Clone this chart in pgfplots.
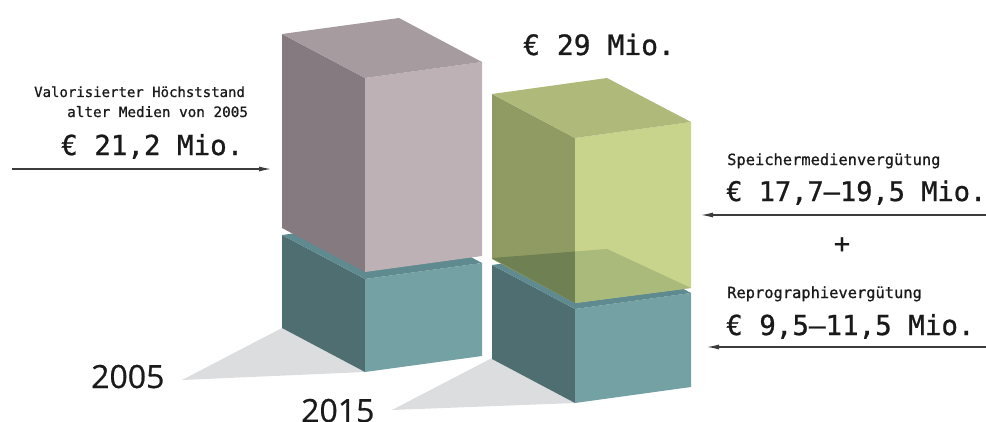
\documentclass[border=0pt]{standalone}
\usepackage{fontspec}
\setmainfont{DejaVu Sans Mono}
\newfontfamily\lab{DejaVu Sans Mono}[FakeBold=0.9]
\newfontfamily\yearfont{Open Sans}[FakeBold=0.6]
\usepackage{pgfplots}
\pgfplotsset{compat=1.18}
\usetikzlibrary{arrows.meta}
\definecolor{mauveTop}{HTML}{A69B9F}
\definecolor{mauveLeft}{HTML}{857A80}
\definecolor{mauveRight}{HTML}{BEB1B5}
\definecolor{tealTop}{HTML}{5F8A90}
\definecolor{tealLeft}{HTML}{4E6E72}
\definecolor{tealRight}{HTML}{74A1A3}
\definecolor{greenTop}{HTML}{AEB97A}
\definecolor{greenLeft}{HTML}{8F9B63}
\definecolor{greenRight}{HTML}{C8D38C}
\definecolor{greenBotL}{HTML}{6F8052}
\definecolor{greenBotR}{HTML}{A9BA7B}
\definecolor{shadowC}{HTML}{DCDDDF}
\definecolor{txt}{HTML}{1A1A1A}
\begin{document}
\begin{tikzpicture}
\begin{axis}[width=986bp,height=422bp,scale only axis,hide axis,
  xmin=0,xmax=986,ymin=0,ymax=422,y dir=reverse,clip=false]
\coordinate (BL) at (axis cs:0,422);
\coordinate (TR) at (axis cs:986,0);
% shadows
\addplot[fill=shadowC,draw=none] coordinates {(282,328) (182,380) (365,372)} -- cycle;
\addplot[fill=shadowC,draw=none] coordinates {(492,358) (392,410) (575,403)} -- cycle;
% 2005 bottom (teal)
\addplot[fill=tealLeft,draw=none] coordinates {(365,279) (282,235) (282,328) (365,372)} -- cycle;
\addplot[fill=tealRight,draw=none] coordinates {(365,279) (482,263) (482,356) (365,372)} -- cycle;
\addplot[fill=tealTop,draw=none] coordinates {(365,279) (282,235) (399,219) (482,263)} -- cycle;
% 2005 top (mauve)
\addplot[fill=mauveLeft,draw=none] coordinates {(365,78) (282,34) (282,228) (365,272)} -- cycle;
\addplot[fill=mauveRight,draw=none] coordinates {(365,78) (482,62) (482,256) (365,272)} -- cycle;
\addplot[fill=mauveTop,draw=none] coordinates {(365,78) (282,34) (399,18) (482,62)} -- cycle;
% 2015 bottom (teal)
\addplot[fill=tealLeft,draw=none] coordinates {(575,309) (492,265) (492,359) (575,403)} -- cycle;
\addplot[fill=tealRight,draw=none] coordinates {(575,309) (691,293) (691,387) (575,403)} -- cycle;
\addplot[fill=tealTop,draw=none] coordinates {(575,309) (492,265) (608,249) (691,293)} -- cycle;
% 2015 top (green)
\addplot[fill=greenLeft,draw=none] coordinates {(575,138) (492,94) (492,259) (575,303)} -- cycle;
\addplot[fill=greenRight,draw=none] coordinates {(575,138) (691,122) (691,288) (575,303)} -- cycle;
\addplot[fill=greenTop,draw=none] coordinates {(575,138) (492,94) (607,78) (691,122)} -- cycle;
\addplot[fill=greenBotL,draw=none] coordinates {(492,258) (575,251.5) (575,303)} -- cycle;
\addplot[fill=greenBotR,draw=none] coordinates {(575,251.5) (607,249) (691,288) (575,303)} -- cycle;
% arrows
\addplot[color=txt!85,line width=1.1bp,-{Latex[length=12bp,width=5bp]}] coordinates {(12,169) (271,169)};
\addplot[color=txt!85,line width=1.1bp,-{Latex[length=12bp,width=5bp]}] coordinates {(986,215) (701,215)};
\addplot[color=txt!85,line width=1.1bp,-{Latex[length=12bp,width=5bp]}] coordinates {(986,347) (707,347)};
% texts
\node[anchor=base west,inner sep=0pt,text=txt,font=\lab\fontsize{14bp}{16bp}\selectfont] at (axis cs:34,97) {Valorisierter Höchststand};
\node[anchor=base west,inner sep=0pt,text=txt,font=\lab\fontsize{14.3bp}{16bp}\selectfont] at (axis cs:67,117) {alter Medien von 2005};
\node[anchor=base west,inner sep=0pt,text=txt,font=\lab\fontsize{27.5bp}{30bp}\selectfont] at (axis cs:61,155) {€ 21,2 Mio.};
\node[anchor=base west,inner sep=0pt,text=txt,font=\lab\fontsize{28bp}{30bp}\selectfont] at (axis cs:523,55) {€ 29 Mio.};
\node[anchor=base west,inner sep=0pt,text=txt,font=\lab\fontsize{15.4bp}{17bp}\selectfont] at (axis cs:727,165) {Speichermedienvergütung};
\node[anchor=base west,inner sep=0pt,text=txt,font=\lab\fontsize{27bp}{30bp}\selectfont] at (axis cs:726,201) {€ 17,7–19,5 Mio.};
\node[anchor=center,inner sep=0pt,text=txt,font=\lab\fontsize{27bp}{30bp}\selectfont] at (axis cs:842,245) {+};
\node[anchor=base west,inner sep=0pt,text=txt,font=\lab\fontsize{15.4bp}{17bp}\selectfont] at (axis cs:727,298) {Reprographievergütung};
\node[anchor=base west,inner sep=0pt,text=txt,font=\lab\fontsize{27.5bp}{30bp}\selectfont] at (axis cs:726,335) {€ 9,5–11,5 Mio.};
\node[anchor=base west,inner sep=0pt,text=txt,font=\yearfont\fontsize{32bp}{34bp}\selectfont] at (axis cs:91,388) {2005};
\node[anchor=base west,inner sep=0pt,text=txt,font=\yearfont\fontsize{32bp}{34bp}\selectfont] at (axis cs:301,422) {2015};
\end{axis}
\pgfresetboundingbox
\path[use as bounding box] (BL) rectangle (TR);
\end{tikzpicture}
\end{document}
